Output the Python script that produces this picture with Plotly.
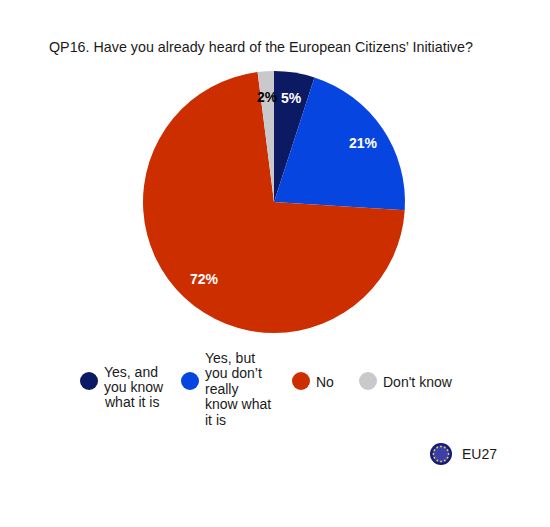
import math
import plotly.graph_objects as go

categories = ["Yes, and you know what it is", "Yes, but you don’t really know what it is", "No", "Don't know"]
values = [5, 21, 72, 2]
labels = ["5%", "21%", "72%", "2%"]
colors = ["#0b1a63", "#0645e0", "#cc2e00", "#c9c9cb"]
text_colors = ["white", "white", "white", "black"]
legend_lines = [["Yes, and", "you know", "what it is"],
                ["Yes, but", "you don’t", "really", "know what", "it is"],
                ["No"], ["Don't know"]]
region = "EU27"
title = "QP16. Have you already heard of the European Citizens’ Initiative?"

# The page body has an 8 px margin, so the figure is sized and placed inside it
W, H = 534, 511
def px(x): return (x - 8) / W
def py(y): return 1 - (y - 8) / H

FONT = "Liberation Sans, Arial, sans-serif"
INK = "#1a1a1a"

fig = go.Figure()
fig.add_trace(go.Pie(
    values=values, labels=categories, textinfo="none",
    sort=False, direction="clockwise", rotation=0,
    marker=dict(colors=colors, line=dict(width=0)),
    domain=dict(x=[px(143), px(405)], y=[py(333), py(71)]),
    showlegend=False, hoverinfo="label+percent",
))

shapes, anns = [], []
def text(t, x, y, size=14, color=INK, bold=False, anchor="left"):
    anns.append(dict(text=f"<b>{t}</b>" if bold else t, x=px(x), y=py(y), xref="paper", yref="paper",
                     xanchor=anchor, yanchor="middle", showarrow=False, borderpad=0, borderwidth=0,
                     font=dict(family=FONT, size=size, color=color)))
def disc(cx, cy, r, color):
    shapes.append(dict(type="circle", xref="paper", yref="paper", x0=px(cx - r), x1=px(cx + r),
                       y0=py(cy + r), y1=py(cy - r), fillcolor=color, line=dict(width=0)))

text(title, 49, 47, size=14.3)

label_pos = [(291, 98), (363, 143), (204, 279), (267, 97)]
for t, c, (x, y) in zip(labels, text_colors, label_pos):
    text(t, x, y, size=14, color=c, bold=True, anchor="center")

dot_x = [89, 190, 301, 368]
text_x = [104, 205, 316, 383]
line_y = [[372, 387, 402], [358, 373, 389, 404, 420], [382], [382]]
for cx, tx, c, lines, ys in zip(dot_x, text_x, colors, legend_lines, line_y):
    disc(cx, 381, 9, c)
    for line, y in zip(lines, ys):
        text(line, tx, y)

disc(441, 454, 11, "#141c78")
disc(441, 454, 8.5, "#3b3fa6")
for i in range(12):
    a = math.radians(30 * i)
    disc(441 + 7.5 * math.cos(a), 454 + 7.5 * math.sin(a), 0.9, "#e8d24a")
text(region, 462, 454, size=14)

fig.update_layout(width=W, height=H, margin=dict(l=0, r=0, t=0, b=0), paper_bgcolor="white",
                  shapes=shapes, annotations=anns)
fig.write_html("out.html")
